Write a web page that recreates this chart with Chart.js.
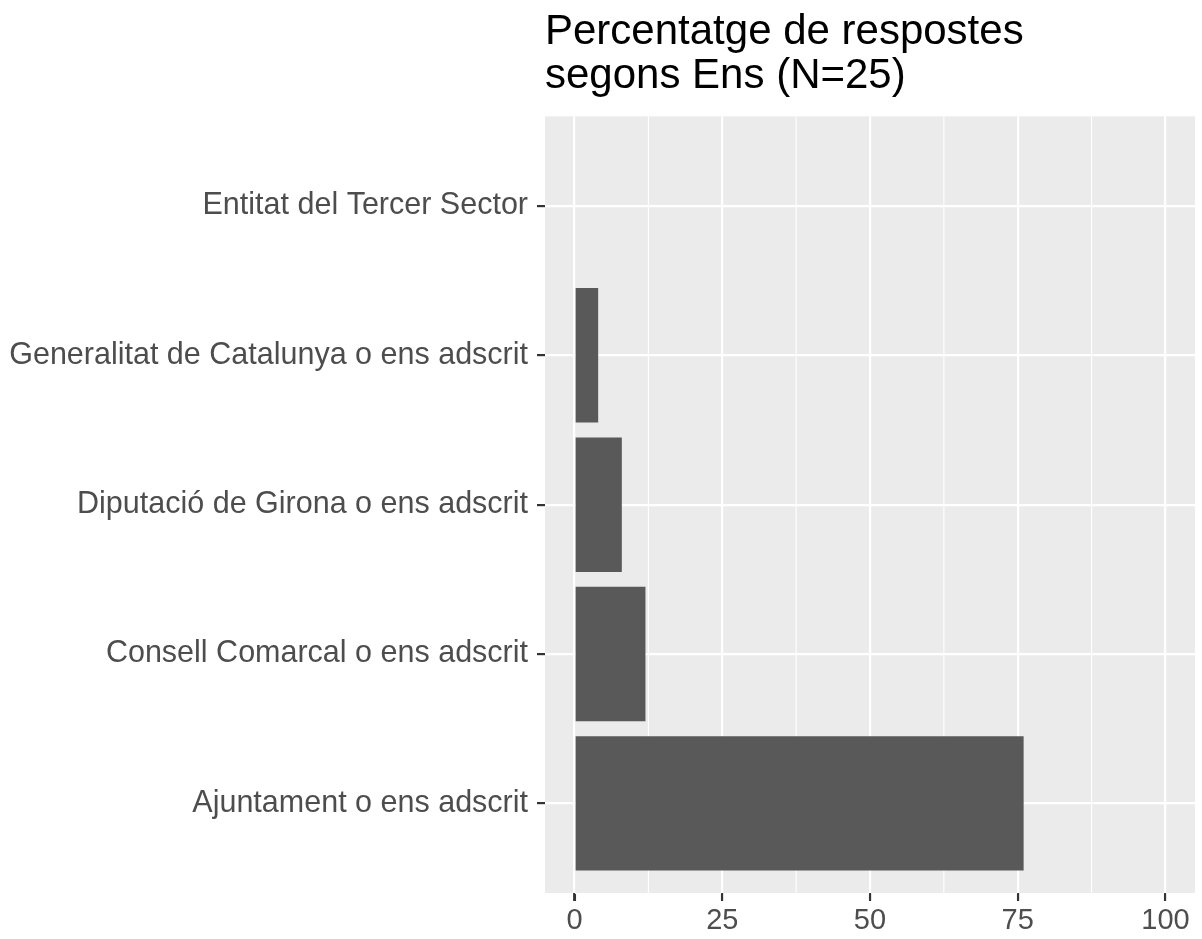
<!DOCTYPE html>
<html>
<head>
<meta charset="utf-8">
<script src="https://cdn.jsdelivr.net/npm/chart.js@4"></script>
<style>
  html, body { margin: 0; padding: 0; background: #ffffff; }
  #wrap { width: 1202px; height: 939px; position: relative; }
</style>
</head>
<body>
<div id="wrap"><canvas id="c"></canvas></div>
<script>
// Categories listed bottom to top (as in the plot)
const categories = [
  "Ajuntament o ens adscrit",
  "Consell Comarcal o ens adscrit",
  "Diputació de Girona o ens adscrit",
  "Generalitat de Catalunya o ens adscrit",
  "Entitat del Tercer Sector"
];
const percentages = [76, 12, 8, 4, 0];
const xMajorTicks = [0, 25, 50, 75, 100];
const xMinorTicks = [12.5, 37.5, 62.5, 87.5];
const titleLines = ["Percentatge de respostes", "segons Ens (N=25)"];

const FONT = "'Liberation Sans', Arial, Helvetica, sans-serif";

const panelBg = {
  id: 'panelBg',
  beforeDraw(chart) {
    const a = chart.chartArea, ctx = chart.ctx;
    const xs = chart.scales.x;
    ctx.save();
    ctx.fillStyle = '#EBEBEB';
    ctx.fillRect(a.left, a.top, a.right - a.left, a.bottom - a.top);
    ctx.strokeStyle = '#FFFFFF';
    ctx.lineWidth = 1.1;
    xMinorTicks.forEach(v => {
      const px = xs.getPixelForValue(v);
      ctx.beginPath();
      ctx.moveTo(px, a.top);
      ctx.lineTo(px, a.bottom);
      ctx.stroke();
    });
    ctx.restore();
  },
  afterDraw(chart) {
    // x-axis tick marks below the panel
    const a = chart.chartArea, ctx = chart.ctx;
    const xs = chart.scales.x;
    ctx.save();
    ctx.strokeStyle = '#333333';
    ctx.lineWidth = 2.1;
    xMajorTicks.forEach(v => {
      const px = Math.round(xs.getPixelForValue(v));
      ctx.beginPath();
      ctx.moveTo(px, a.bottom + 1);
      ctx.lineTo(px, a.bottom + 8);
      ctx.stroke();
    });
    ctx.restore();
  }
};

const data = {
  datasets: [{
    data: categories.map((c, i) => ({ x: percentages[i], y: i + 1 })),
    backgroundColor: '#595959',
    borderWidth: 0,
    barPercentage: 0.9,
    categoryPercentage: 1.0
  }]
};

new Chart(document.getElementById('c'), {
  type: 'bar',
  data,
  plugins: [panelBg],
  options: {
    indexAxis: 'y',
    responsive: true,
    maintainAspectRatio: false,
    animation: false,
    layout: { padding: { left: 0, right: 7, top: 0, bottom: 0 } },
    plugins: {
      legend: { display: false },
      tooltip: { enabled: false },
      title: {
        display: true,
        text: titleLines,
        align: 'start',
        fullSize: false,
        color: '#000000',
        font: { family: FONT, size: 42, weight: 'normal', lineHeight: 1.04 },
        padding: { top: 11, bottom: 18 }
      }
    },
    scales: {
      x: {
        type: 'linear',
        min: -5,
        max: 105,
        offset: false,
        afterBuildTicks(scale) { scale.ticks = xMajorTicks.map(v => ({ value: v })); },
        afterFit(scale) { scale.height = 46; },
        border: { display: false },
        grid: {
          offset: false,
          color: '#FFFFFF',
          lineWidth: 2.2,
          drawTicks: true,
          tickLength: 8,
          tickWidth: 2,
          tickColor: '#333333'
        },
        ticks: {
          autoSkip: false,
          maxRotation: 0,
          color: '#4D4D4D',
          font: { family: FONT, size: 29 },
          padding: 3
        }
      },
      y: {
        type: 'linear',
        min: 0.4,
        max: 5.6,
        offset: false,
        afterBuildTicks(scale) { scale.ticks = categories.map((c, i) => ({ value: i + 1 })); },
        afterFit(scale) { scale.width = 545; },
        border: { display: false },
        grid: {
          offset: false,
          color: '#FFFFFF',
          lineWidth: 2.2,
          drawTicks: true,
          tickLength: 8,
          tickWidth: 2.2,
          tickColor: '#333333'
        },
        ticks: {
          autoSkip: false,
          color: '#4D4D4D',
          font: { family: FONT, size: 30.5 },
          padding: 9,
          callback: v => categories[Math.round(v) - 1] || ''
        }
      }
    }
  }
});
</script>
</body>
</html>
